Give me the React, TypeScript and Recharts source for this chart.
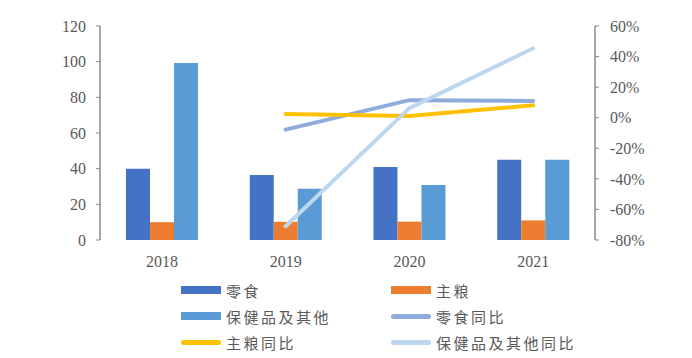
import React from 'react';
import { ComposedChart, Bar, Line, XAxis, YAxis } from 'recharts';

const years = ['2018', '2019', '2020', '2021'];
const snacks = [40, 36.5, 41, 45];
const staple = [10, 10.2, 10.3, 11];
const health = [99.3, 28.8, 30.8, 45];
const snacksYoY = [null, -7.8, 11.5, 11];
const stapleYoY = [null, 2.4, 1.1, 8.1];
const healthYoY = [null, -71, 6.3, 45.4];

const leftTicks = [0, 20, 40, 60, 80, 100, 120];
const rightTicks = [-80, -60, -40, -20, 0, 20, 40, 60];
const boundaryTicks = [0, 1, 2, 3, 4];

const data = years.map((y, i) => ({
  year: y,
  idx: i + 0.5,
  snacks: snacks[i],
  staple: staple[i],
  health: health[i],
  snacksYoY: snacksYoY[i],
  stapleYoY: stapleYoY[i],
  healthYoY: healthYoY[i],
}));

const legendItems = [
  { name: '零食', color: '#4472C4', type: 'bar' },
  { name: '主粮', color: '#ED7D31', type: 'bar' },
  { name: '保健品及其他', color: '#5B9BD5', type: 'bar' },
  { name: '零食同比', color: '#8FAADC', type: 'line' },
  { name: '主粮同比', color: '#FFC000', type: 'line' },
  { name: '保健品及其他同比', color: '#BDD7EE', type: 'line' },
];

const axisColor = '#898989';
const textColor = '#595959';
const numFont = { fontSize: 16, fill: textColor, fontFamily: '"Liberation Serif", serif' };

function LegendBlock() {
  return (
    <div
      style={{
        position: 'absolute',
        top: 279,
        left: 181,
        display: 'grid',
        gridTemplateColumns: '210px 250px',
        rowGap: 4,
      }}
    >
      {legendItems.map(it => (
        <div key={it.name} style={{ display: 'flex', alignItems: 'center', height: 22 }}>
          <span
            style={{
              display: 'inline-block',
              width: 40,
              height: it.type === 'bar' ? 8 : 5,
              borderRadius: it.type === 'bar' ? 0 : 3,
              background: it.color,
              marginRight: 5,
            }}
          />
          <span style={{ fontSize: 15, letterSpacing: 2.5, color: textColor, fontFamily: '"Noto Sans CJK SC", sans-serif' }}>
            {it.name}
          </span>
        </div>
      ))}
    </div>
  );
}

export default function App() {
  return (
    <div style={{ position: 'absolute', left: 0, top: 0, width: 692, height: 358, background: '#fff' }}>
      <ComposedChart
        width={692}
        height={270}
        data={data}
        margin={{ top: 26, right: 0, bottom: 0, left: 0 }}
        barCategoryGap="21%"
        barGap={0}
      >
        <XAxis
          dataKey="year"
          xAxisId="cat"
          tick={numFont}
          tickLine={false}
          axisLine={false}
          tickMargin={10}
          height={30}
        />
        <XAxis
          xAxisId="edge"
          type="number"
          dataKey="idx"
          domain={[0, 4]}
          ticks={boundaryTicks}
          tick={false}
          tickSize={5}
          tickLine={{ stroke: axisColor, strokeWidth: 1.5 }}
          axisLine={{ stroke: axisColor, strokeWidth: 1.5 }}
          height={0}
          allowDataOverflow
        />
        <YAxis
          yAxisId="left"
          domain={[0, 120]}
          ticks={leftTicks}
          width={100}
          tick={numFont}
          tickSize={4}
          tickMargin={10}
          tickLine={{ stroke: axisColor }}
          axisLine={{ stroke: axisColor, strokeWidth: 1.5 }}
          interval={0}
        />
        <YAxis
          yAxisId="right"
          orientation="right"
          domain={[-80, 60]}
          ticks={rightTicks}
          width={97}
          tick={numFont}
          tickSize={4}
          tickMargin={11}
          tickLine={{ stroke: axisColor }}
          axisLine={{ stroke: axisColor, strokeWidth: 1.5 }}
          tickFormatter={(v: number) => `${v}%`}
          interval={0}
        />
        <Bar dataKey="snacks" name="零食" xAxisId="cat" yAxisId="left" fill="#4472C4" isAnimationActive={false} />
        <Bar dataKey="staple" name="主粮" xAxisId="cat" yAxisId="left" fill="#ED7D31" isAnimationActive={false} />
        <Bar dataKey="health" name="保健品及其他" xAxisId="cat" yAxisId="left" fill="#5B9BD5" isAnimationActive={false} />
        <Line dataKey="snacksYoY" name="零食同比" xAxisId="cat" yAxisId="right" stroke="#8FAADC" strokeWidth={4} strokeLinecap="round" dot={false} isAnimationActive={false} />
        <Line dataKey="stapleYoY" name="主粮同比" xAxisId="cat" yAxisId="right" stroke="#FFC000" strokeWidth={4} strokeLinecap="round" dot={false} isAnimationActive={false} />
        <Line dataKey="healthYoY" name="保健品及其他同比" xAxisId="cat" yAxisId="right" stroke="#BDD7EE" strokeWidth={4} strokeLinecap="round" dot={false} isAnimationActive={false} />
      </ComposedChart>
      <LegendBlock />
    </div>
  );
}
